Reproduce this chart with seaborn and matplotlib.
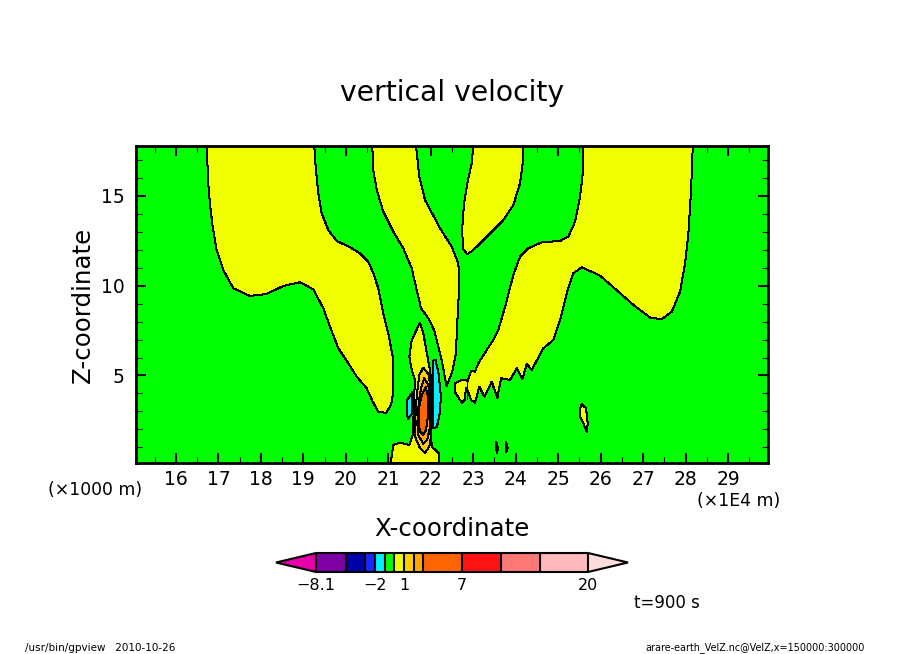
import matplotlib
matplotlib.use("Agg")
import matplotlib.pyplot as plt
from matplotlib.cm import ScalarMappable
from matplotlib.colors import BoundaryNorm, ListedColormap
import numpy as np
import seaborn as sns

# colour levels of the shading
levels = [-8.1, -5, -3, -2, -1, 0, 1, 2, 3, 7, 11, 15, 20]
level_labels = [-8.1, -2, 1, 7, 20]
level_colors = ["#7D00A5", "#0000A8", "#1428FF", "#00F0FF", "#00FF00", "#F0FF00",
                "#FFD000", "#FFA800", "#FF6400", "#FF1414", "#FF7878", "#FFB8BC"]
color_under = "#E600A8"
color_over = "#FFDCDC"
GREEN = "#00FF00"
YELLOW = "#F0FF00"
GOLD = "#FFD000"
ORANGE = "#FFA800"
DEEP = "#FF6400"
CYAN = "#00F0FF"

xlim = (15.06, 29.94)
zlim = (0.14, 17.8)

# contour outlines (x in 1E4 m, z in 1000 m)
west_x = [16.737, 16.747, 16.80, 16.864, 16.959, 17.114, 17.35, 17.743, 18.136, 18.527, 18.92, 19.234,
          19.469, 19.627, 19.822, 20.058, 20.256, 20.491, 20.633, 20.764, 20.946, 21.064, 21.111, 21.111,
          21.0, 20.882, 20.764, 20.647, 20.529, 20.333, 20.098, 19.785, 19.587, 19.431, 19.351, 19.29, 19.257]
west_z = [17.8, 16.075, 14.593, 13.29, 11.99, 10.877, 9.858, 9.429, 9.54, 9.986, 10.19, 9.80,
          8.744, 7.719, 6.515, 5.68, 4.933, 4.287, 3.54, 2.983, 2.911, 3.357, 4.008, 5.958,
          7.351, 8.465, 9.858, 10.694, 11.34, 11.808, 12.142, 12.493, 13.106, 14.036, 15.15, 16.63, 17.8]

band_x = [20.623, 20.647, 20.727, 20.882, 21.118, 21.353, 21.551, 21.669, 21.77, 21.942, 22.076, 22.14, 22.258,
          22.335, 22.375, 22.507, 22.594, 22.611, 22.649, 22.672, 22.649, 22.493, 22.218, 21.864, 21.73, 21.652]
band_z = [17.8, 16.448, 15.334, 14.125, 13.011, 12.086, 10.972, 9.763, 8.744, 8.187, 7.535, 6.978, 5.864,
          4.844, 4.415, 5.212, 6.237, 7.351, 9.022, 10.32, 11.251, 12.175, 13.201, 14.777, 16.075, 17.8]

wedge_x = [23.002, 22.964, 22.861, 22.783, 22.743, 22.752, 22.861, 23.002, 23.318, 23.709, 23.944, 24.102, 24.165, 24.18]
wedge_z = [17.8, 16.822, 15.708, 14.593, 13.29, 12.086, 11.752, 11.992, 12.733, 13.663, 14.499, 15.708, 16.822, 17.8]

east_x = [25.593, 25.578, 25.515, 25.397, 25.239, 25.044, 24.613, 24.297, 24.102, 23.944, 23.772, 23.591, 23.473,
          23.318, 23.12, 23.042, 22.948, 22.87, 22.729, 22.564, 22.564, 22.729, 22.799, 22.83, 22.884, 22.948,
          23.042, 23.143, 23.261, 23.435, 23.567, 23.654, 23.866, 24.024, 24.156, 24.26, 24.377, 24.65, 24.886,
          25.044, 25.201, 25.357, 25.555, 25.986, 26.299, 26.77, 27.163, 27.439, 27.675, 27.87, 27.988, 28.065,
          28.129, 28.169]
east_z = [17.8, 16.265, 14.961, 13.568, 12.733, 12.493, 12.421, 12.086, 11.618, 10.599, 9.022, 7.535, 6.978,
          6.421, 5.68, 5.212, 5.267, 4.71, 4.749, 4.565, 4.097, 3.485, 3.635, 4.287, 4.097, 3.635,
          3.485, 4.376, 3.819, 4.655, 3.73, 4.844, 4.749, 5.401, 4.788, 5.641, 5.306, 6.515, 6.978,
          8.092, 9.579, 10.694, 11.028, 10.56, 9.914, 8.928, 8.22, 8.131, 8.554, 9.669, 11.251, 12.922,
          15.334, 17.8]
seam_x = [22.86, 22.86]
seam_z = [4.71, 3.7]

spot_x = [25.555, 25.656, 25.696, 25.673, 25.593, 25.515, 25.515]
spot_z = [3.396, 3.173, 2.337, 1.836, 2.337, 2.705, 3.173]
sliver1_x = [23.54, 23.58, 23.56, 23.54]
sliver1_z = [1.31, 0.95, 0.66, 0.95]
sliver2_x = [23.77, 23.81, 23.78, 23.77]
sliver2_z = [1.31, 0.98, 0.72, 0.98]

core_x = [21.747, 21.551, 21.495, 21.551, 21.629, 21.605, 21.589, 21.589, 21.495, 21.276, 21.118, 21.057,
          22.201, 22.194, 22.022, 22.006, 22.022, 22.022, 21.966, 21.824]
core_z = [7.942, 6.978, 6.047, 5.306, 4.749, 3.635, 2.337, 1.78, 1.128, 1.256, 1.128, 0.14,
          0.14, 0.666, 1.033, 1.797, 2.911, 4.582, 5.49, 7.351]
gold_x = [21.824, 21.73, 21.669, 21.629, 21.629, 21.747, 21.864, 21.966, 22.006, 22.006, 21.959]
gold_z = [5.435, 5.028, 3.819, 2.337, 1.591, 0.944, 0.699, 1.033, 1.591, 3.819, 5.028]
orange_x = [21.848, 21.77, 21.716, 21.683, 21.706, 21.824, 21.918, 21.982, 21.982, 21.942]
orange_z = [4.844, 4.287, 3.451, 2.337, 1.685, 1.184, 1.407, 2.148, 3.819, 4.471]
deep_x = [21.881, 21.787, 21.73, 21.716, 21.747, 21.824, 21.888, 21.942, 21.942]
deep_z = [4.343, 3.914, 3.262, 2.337, 1.869, 1.685, 1.964, 2.894, 3.731]
cyan_r_x = [22.041, 22.112, 22.177, 22.241, 22.201, 22.14, 22.046, 22.06, 22.046]
cyan_r_z = [5.808, 5.864, 5.212, 3.819, 2.705, 2.114, 2.059, 3.635, 4.933]
cyan_l_x = [21.565, 21.448, 21.434, 21.457, 21.565]
cyan_l_z = [4.081, 3.635, 3.173, 2.577, 2.894]

zones = [(west_x, west_z, YELLOW), (band_x, band_z, YELLOW), (wedge_x, wedge_z, YELLOW),
         (east_x, east_z, YELLOW), (spot_x, spot_z, YELLOW), (sliver1_x, sliver1_z, YELLOW),
         (sliver2_x, sliver2_z, YELLOW), (core_x, core_z, YELLOW), (gold_x, gold_z, GOLD),
         (orange_x, orange_z, ORANGE), (deep_x, deep_z, DEEP), (cyan_r_x, cyan_r_z, CYAN),
         (cyan_l_x, cyan_l_z, CYAN)]

W, H = 904, 654


def drawZone(ax, xs, zs, color):
    ax.fill(xs, zs, color=color, lw=0, antialiased=False)
    sns.lineplot(x=xs + xs[:1], y=zs + zs[:1], sort=False, estimator=None,
                 color="black", lw=0.72, antialiased=False, ax=ax)


sns.set_style("ticks")
plt.rcParams["font.family"] = ["DejaVu Sans"]

fig = plt.figure(figsize=(W / 100, H / 100), dpi=100)
ax = fig.add_axes([136 / W, 1 - 462.7 / H, 632 / W, 317 / H])
ax.set_facecolor(GREEN)

for xs, zs, color in zones:
    drawZone(ax, xs, zs, color)
sns.lineplot(x=seam_x, y=seam_z, sort=False, estimator=None, color="black", lw=0.72, antialiased=False, ax=ax)

ax.set_xlim(xlim)
ax.set_ylim(zlim)
ax.set_xticks(range(16, 30))
ax.set_xticks(np.arange(15.5, 30, 1), minor=True)
ax.set_yticks([5, 10, 15])
ax.set_yticks(np.arange(1, 18), minor=True)
ax.tick_params(which="major", direction="in", length=7, width=1.5, top=True, right=True, labelsize=13.5,
               color="black", labelcolor="black")
ax.tick_params(which="minor", direction="in", length=4, width=0.8, top=True, right=True, color="black")
ax.tick_params(axis="x", which="major", pad=5)
ax.tick_params(axis="y", which="major", pad=8)
for s in ax.spines.values():
    s.set_linewidth(2)
    s.set_color("black")
    s.set_zorder(5)

# colour bar, the axes spans the triangles too
cmap = ListedColormap(level_colors)
cmap.set_under(color_under)
cmap.set_over(color_over)
norm = BoundaryNorm(levels, cmap.N)
cax = fig.add_axes([276 / W, 1 - 572 / H, 352 / W, 19 / H])
cb = fig.colorbar(ScalarMappable(norm=norm, cmap=cmap), cax=cax, orientation="horizontal", spacing="proportional",
                  extend="both", extendfrac=40 / 272, drawedges=True, ticks=level_labels)
cb.ax.set_xticklabels(["\u22128.1", "\u22122", "1", "7", "20"])
cb.ax.minorticks_off()
cb.ax.tick_params(which="both", length=0, labelsize=11.5, pad=4, labelcolor="black")
cb.outline.set_linewidth(1.5)
cb.outline.set_edgecolor("black")
cb.dividers.set_linewidth(1.5)
cb.dividers.set_color("black")

# text
fig.text(452 / W, 1 - 93 / H, "vertical velocity", ha="center", va="center", fontsize=20.3, color="black")
fig.text(452 / W, 1 - 529 / H, "X-coordinate", ha="center", va="center", fontsize=17.6, color="black")
fig.text(83 / W, 1 - 305 / H, "Z-coordinate", ha="center", va="center", rotation=90, fontsize=17.6, color="black")
fig.text(95.5 / W, 1 - 490 / H, "(\u00d71000 m)", ha="center", va="center", fontsize=12.4, color="black")
fig.text(739 / W, 1 - 501 / H, "(\u00d71E4 m)", ha="center", va="center", fontsize=12.4, color="black")
fig.text(667 / W, 1 - 603 / H, "t=900 s", ha="center", va="center", fontsize=12, color="black")
fig.text(25 / W, 1 - 648 / H, "/usr/bin/gpview   2010-10-26", ha="left", va="center", fontsize=7.5, color="black")
fig.text(865 / W, 1 - 648 / H, "arare-earth_VelZ.nc@VelZ,x=150000:300000", ha="right", va="center", fontsize=6.9, color="black")

fig.savefig("out.png", dpi=100)
